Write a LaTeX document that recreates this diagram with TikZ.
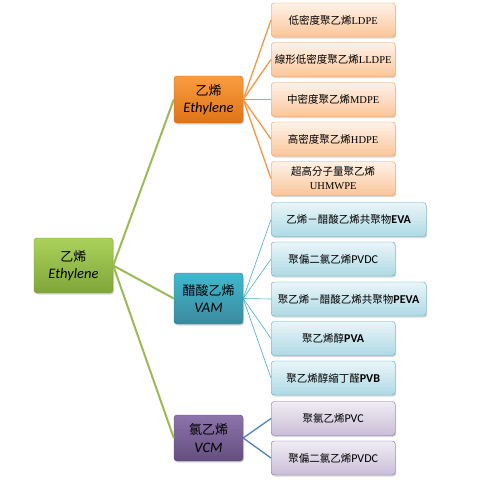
\documentclass[tikz,border=0pt]{standalone}
\usepackage{fontspec}
\setmainfont{Liberation Serif}
\newfontfamily\cjk{Noto Sans CJK TC}
\newfontfamily\calib{Carlito}
\usetikzlibrary{shadows}

\definecolor{rootgreen}{HTML}{9BBB59}
\definecolor{roottop}{HTML}{AAD25A}
\definecolor{rootbottom}{HTML}{7FA53A}
\definecolor{rootedge}{HTML}{7A9A3A}
\definecolor{ethorange}{HTML}{F79646}
\definecolor{ethtop}{HTML}{FA9C40}
\definecolor{ethbottom}{HTML}{DE7418}
\definecolor{vamblue}{HTML}{4BACC6}
\definecolor{vcmpurple}{HTML}{8064A2}
\definecolor{vcmline}{HTML}{4F81BD}

\tikzset{
	box/.style={rounded corners=3pt, align=center, inner sep=1pt,
		drop shadow={shadow xshift=1pt, shadow yshift=-1.5pt, opacity=0.3}},
	bigfont/.style={font=\fontsize{13}{17.5}\selectfont},
	smallfont/.style={font=\fontsize{10.5}{14}\selectfont},
	rootbox/.style={box, bigfont, draw=rootedge, top color=roottop, bottom color=rootbottom,
		minimum width=79pt, minimum height=55pt},
	midbox/.style={box, bigfont, minimum width=69pt, minimum height=47pt},
	leaf/.style={box, smallfont, anchor=west, minimum width=124pt, minimum height=34pt},
	wideleaf/.style={leaf, minimum width=155pt},
	oleaf/.style={leaf, draw=ethorange, top color=ethorange!12, bottom color=ethorange!55},
	bleaf/.style={leaf, draw=vamblue, top color=vamblue!12, bottom color=vamblue!45},
	bwideleaf/.style={bleaf, minimum width=155pt},
	pleaf/.style={leaf, draw=vcmpurple, top color=vcmpurple!12, bottom color=vcmpurple!42},
}
\newcommand{\lat}[1]{{\calib\fontsize{12}{14}\selectfont #1}}
\newcommand{\eng}[1]{{\calib\itshape\fontsize{14.5}{17.5}\selectfont #1}}

\begin{document}
\begin{tikzpicture}[x=1pt, y=-1pt]
	\useasboundingbox (0,0) rectangle (491,480);
	% first and second level
	\node[rootbox] (root) at (73.5,265.5) {{\cjk 乙烯}\\\eng{Ethylene}};
	\node[midbox, draw=ethorange!75!black, top color=ethtop, bottom color=ethbottom] (eth) at (208.5,99.5) {{\cjk 乙烯}\\\eng{Ethylene}};
	\node[midbox, minimum height=51pt, draw=vamblue!75!black, top color=vamblue!85!cyan, bottom color=vamblue!80!black] (vam) at (208.5,298.5) {{\cjk 醋酸乙烯}\\\eng{VAM}};
	\node[midbox, minimum height=46pt, draw=vcmpurple!75!black, top color=vcmpurple!90!white, bottom color=vcmpurple!78!black] (vcm) at (208.5,438) {{\cjk 氯乙烯}\\\eng{VCM}};
	% ethylene leaves
	\node[oleaf] (ldpe) at (271,20) {{\cjk 低密度聚乙烯}LDPE};
	\node[oleaf] (lldpe) at (271,59.5) {{\cjk 線形低密度聚乙烯}LLDPE};
	\node[oleaf] (mdpe) at (271,99.5) {{\cjk 中密度聚乙烯}MDPE};
	\node[oleaf] (hdpe) at (271,139) {{\cjk 高密度聚乙烯}HDPE};
	\node[oleaf] (uhmwpe) at (271,178.5) {{\cjk 超高分子量聚乙烯}\\UHMWPE};
	% vam leaves
	\node[bwideleaf] (eva) at (271,219.5) {{\cjk 乙烯－醋酸乙烯共聚物}\lat{\bfseries EVA}};
	\node[bleaf] (pvdca) at (271,259) {{\cjk 聚偏二氯乙烯}\lat{PVDC}};
	\node[bwideleaf] (peva) at (271,299) {{\cjk 聚乙烯－醋酸乙烯共聚物}\lat{\bfseries PEVA}};
	\node[bleaf] (pva) at (271,338.5) {{\cjk 聚乙烯醇}\lat{\bfseries PVA}};
	\node[bleaf] (pvb) at (271,378) {{\cjk 聚乙烯醇縮丁醛}\lat{\bfseries PVB}};
	% vcm leaves
	\node[pleaf] (pvc) at (271,418.5) {{\cjk 聚氯乙烯}\lat{PVC}};
	\node[pleaf] (pvdcb) at (271,458) {{\cjk 聚偏二氯乙烯}\lat{PVDC}};
	% connectors
	\foreach \m in {eth,vam,vcm}
		\draw[rootgreen, line width=2pt] (root.east) -- (\m.west);
	\foreach \l in {ldpe,lldpe,mdpe,hdpe,uhmwpe}
		\draw[ethorange, line width=1.3pt] (eth.east) -- (\l.west);
	\foreach \l in {eva,pvdca,peva,pva,pvb}
		\draw[vamblue, line width=0.6pt] (vam.east) -- (\l.west);
	\foreach \l in {pvc,pvdcb}
		\draw[vcmline, line width=1.3pt] (vcm.east) -- (\l.west);
\end{tikzpicture}
\end{document}
